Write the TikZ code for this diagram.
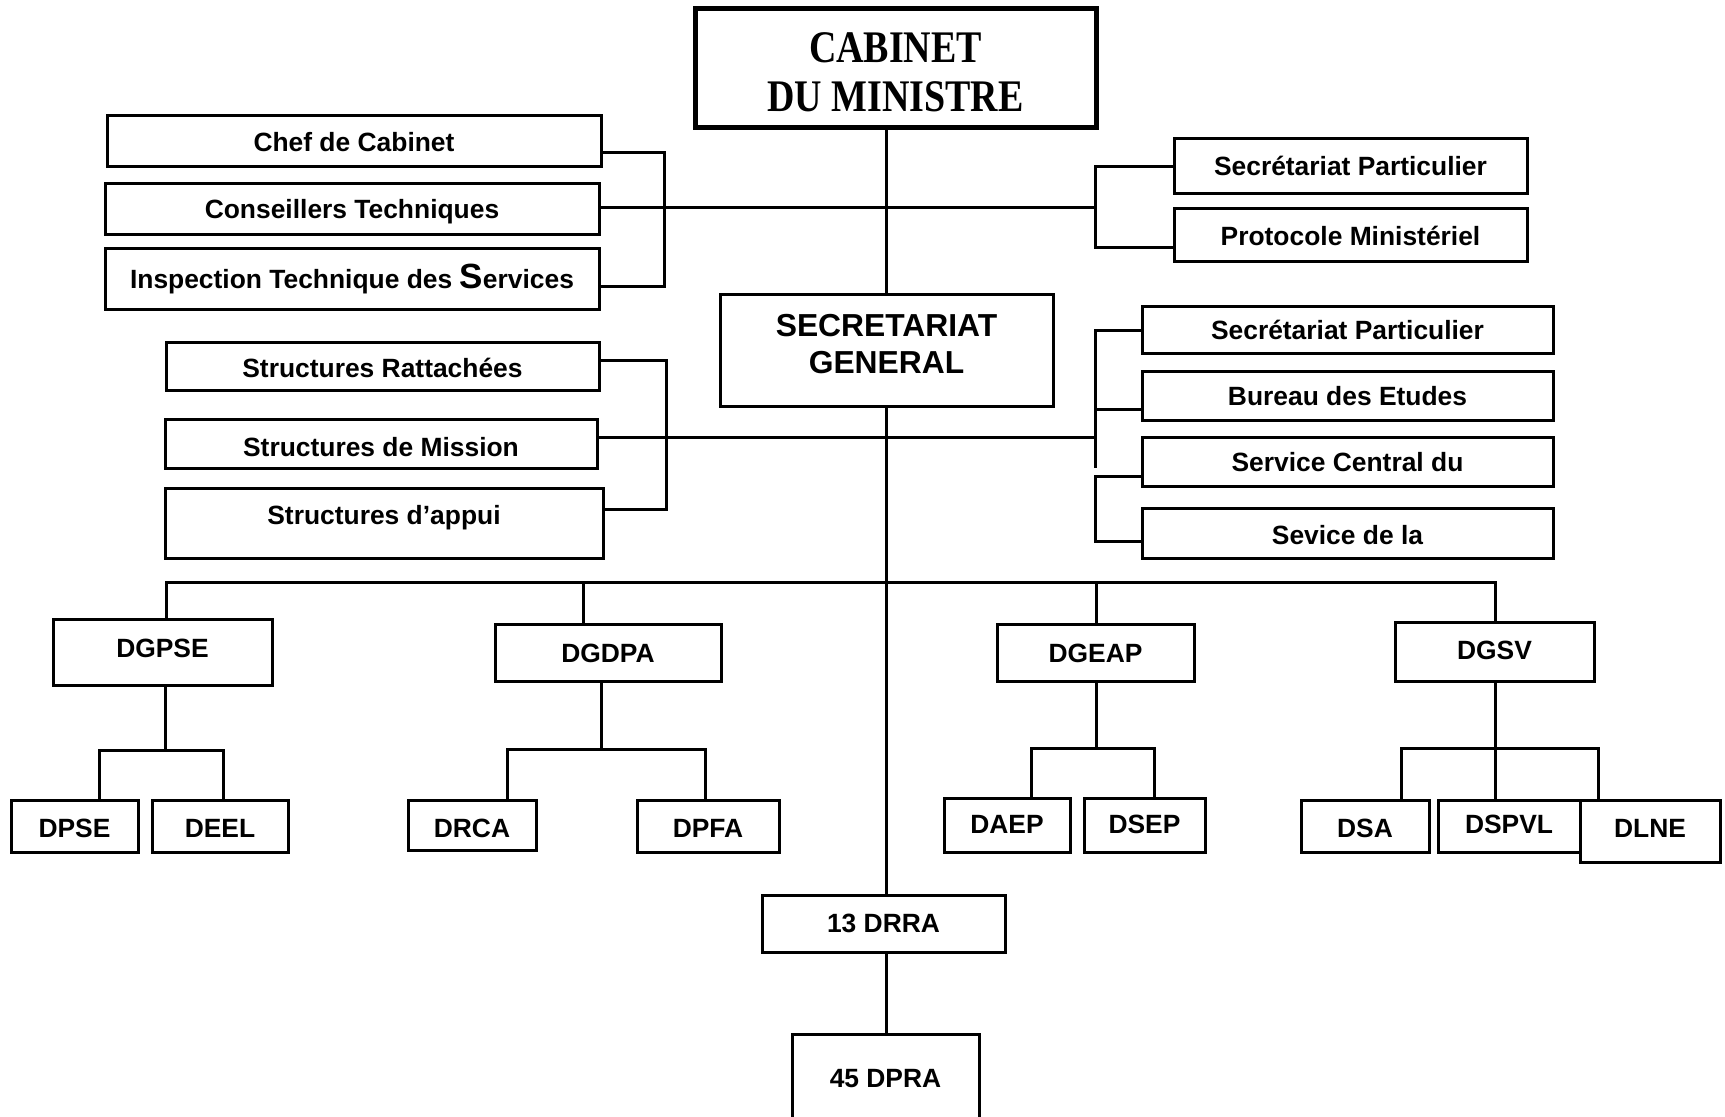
\documentclass[tikz,border=0pt]{standalone}
\usepackage{fontspec}
\setmainfont{Liberation Sans}
\newfontfamily\cabfont{Liberation Serif}[FakeStretch=0.84]
\tikzset{
  box/.style={draw, line width=1.5pt, inner sep=0pt, fill=white,
    font=\bfseries\fontsize{13.2}{15}\selectfont},
  conn/.style={line width=1.5pt},
}
% \orgbox[style]{name}{x1}{y1}{x2}{y2}{baseline}{text}
\newcommand\orgbox[8][]{%
  \pgfmathsetmacro\obw{(#5-#3)*0.5}%
  \pgfmathsetmacro\obth{(#7-#4)*0.5}%
  \pgfmathsetmacro\obtd{(#6-#7)*0.5}%
  \pgfmathsetmacro\obcx{(#3+#5)/2}%
  \node[box,#1,minimum width=\obw pt,text height=\obth pt,text depth=\obtd pt,anchor=base] (#2) at (\obcx,#7) {#8};}
\begin{document}
\begin{tikzpicture}[x=0.5pt,y=-0.5pt]
\fill[white] (0,0) rectangle (1725,1117);
\useasboundingbox (0,0) rectangle (1725,1117);

% connectors first (boxes drawn over them)
\coordinate (bus) at (887,583);

% nodes
\orgbox[line width=2.5pt, font=\cabfont\bfseries\fontsize{22.6}{24.5}\selectfont]{cab}{695}{9}{1096}{128}{63}{\begin{tabular}[t]{@{}c@{}}CABINET\\DU MINISTRE\end{tabular}}
\orgbox[font=\bfseries\fontsize{15.9}{18.5}\selectfont]{sg}{720}{295}{1053}{407}{337}{\begin{tabular}[t]{@{}c@{}}SECRETARIAT\\GENERAL\end{tabular}}

\orgbox{chef}{107}{116}{601}{167}{152}{Chef de Cabinet}
\orgbox{cons}{105}{184}{599}{235}{219}{Conseillers Techniques}
\orgbox{insp}{105}{249}{599}{310}{289}{Inspection Technique des {\fontsize{17.5}{18}\selectfont S}ervices}
\orgbox{sp1}{1174}{139}{1527}{194}{176}{Secrétariat Particulier}
\orgbox{prot}{1174}{209}{1527}{262}{246}{Protocole Ministériel}

\orgbox{sr}{166}{343}{599}{391}{378}{Structures Rattachées}
\orgbox{sm}{165}{420}{597}{469}{457}{Structures de Mission}
\orgbox{sa}{165}{489}{603}{559}{525}{Structures d’appui}
\orgbox{sp2}{1142}{307}{1553}{354}{340}{Secrétariat Particulier}
\orgbox{be}{1142}{372}{1553}{421}{406}{Bureau des Etudes}
\orgbox{sc}{1142}{438}{1553}{487}{472}{Service Central du}
\orgbox{sv}{1142}{509}{1553}{559}{545}{Sevice de la}

\orgbox{dgpse}{53}{619}{272}{685}{657}{DGPSE}
\orgbox{dgdpa}{495}{624}{721}{681}{662}{DGDPA}
\orgbox{dgeap}{997}{624}{1194}{681}{662}{DGEAP}
\orgbox{dgsv}{1395}{622}{1594}{681}{659}{DGSV}

\orgbox{dpse}{11}{800}{138}{852}{837}{DPSE}
\orgbox{deel}{152}{800}{288}{852}{837}{DEEL}
\orgbox{drca}{408}{800}{536}{850}{837}{DRCA}
\orgbox{dpfa}{637}{800}{779}{852}{837}{DPFA}
\orgbox{daep}{944}{798}{1070}{852}{833}{DAEP}
\orgbox{dsep}{1084}{798}{1205}{852}{833}{DSEP}
\orgbox{dsa}{1301}{800}{1429}{852}{837}{DSA}
\orgbox{dspvl}{1438}{800}{1580}{852}{833}{DSPVL}
\orgbox{dlne}{1580}{800}{1720}{862}{837}{DLNE}

\orgbox{drra}{762}{895}{1005}{952}{932}{13 DRRA}
\orgbox{dpra}{792}{1034}{979}{1140}{1087}{45 DPRA}

% main vertical axis
\draw[conn] (cab.south -| sg.north) -- (sg.north);
\draw[conn] (sg.south) -- (sg.south |- drra.north);
\draw[conn] (drra.south -| sg.south) -- (dpra.north -| sg.south);

% cabinet side groups
\draw[conn] (chef.east |- 0,153) -- (664,153) -- (664,287) -- (insp.east |- 0,287);
\draw[conn] (cons.east |- 0,208) -- (1095,208);
\draw[conn] (sp1.west |- 0,167) -- (1095,167) -- (1095,248) -- (prot.west |- 0,248);

% SG side groups
\draw[conn] (sr.east |- 0,361) -- (666,361) -- (666,510) -- (sa.east |- 0,510);
\draw[conn] (sm.east |- 0,438) -- (1095,438);
\draw[conn] (sp2.west |- 0,331) -- (1095,331) -- (1095,468);
\draw[conn] (be.west |- 0,410) -- (1095,410);
\draw[conn] (sc.west |- 0,477) -- (1095,477) -- (1095,542) -- (sv.west |- 0,542);

% DG bus
\draw[conn] (dgpse.north -| 166,0) -- (166,583) -- (1495,583) -- (dgsv.north -| 1495,0);
\draw[conn] (583,583) -- (dgdpa.north -| 583,0);
\draw[conn] (1096,583) -- (dgeap.north -| 1096,0);

% sub-directorates
\draw[conn] (dgpse.south -| 165,0) -- (165,750);
\draw[conn] (dpse.north -| 99,0) -- (99,750) -- (223,750) -- (deel.north -| 223,0);
\draw[conn] (dgdpa.south -| 601,0) -- (601,749);
\draw[conn] (drca.north -| 507,0) -- (507,749) -- (705,749) -- (dpfa.north -| 705,0);
\draw[conn] (dgeap.south -| 1096,0) -- (1096,748);
\draw[conn] (daep.north -| 1031,0) -- (1031,748) -- (1154,748) -- (dsep.north -| 1154,0);
\draw[conn] (dgsv.south -| 1495,0) -- (dspvl.north -| 1495,0);
\draw[conn] (dsa.north -| 1401,0) -- (1401,748) -- (1598,748) -- (dlne.north -| 1598,0);
\end{tikzpicture}
\end{document}
